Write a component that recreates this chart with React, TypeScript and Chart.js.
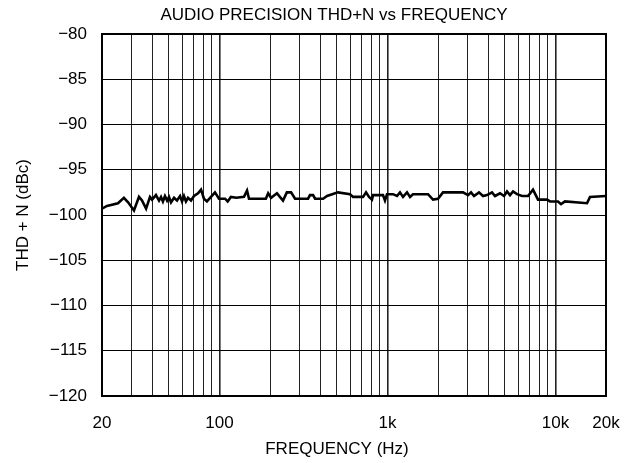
import React, { useEffect, useRef } from "react";
import { Chart, registerables } from "chart.js";

Chart.register(...registerables);

const TITLE = "AUDIO PRECISION THD+N vs FREQUENCY";
const X_TITLE = "FREQUENCY (Hz)";
const Y_TITLE = "THD + N (dBc)";

const FREQ_HZ = [
  20, 21.4, 24.9, 27.0, 28.6, 31.0, 33.2, 34.6, 36.6, 38.6, 39.7, 41.9, 43.7, 44.9, 46.1, 47.4,
  48.8, 50.1, 51.5, 53.7, 55.9, 58.3, 59.9, 61.5, 63.2, 65.0, 67.7, 70.6, 74.6, 77.7, 80.9, 84.3,
  89.1, 94.1, 99.4, 108, 112, 117, 126, 140, 146, 150, 189, 195, 203, 220, 229, 239, 252, 267,
  282, 337, 346, 361, 371, 414, 437, 508, 599, 624, 716, 746, 777, 809, 821, 941, 967, 994,
  1079, 1140, 1188, 1238, 1308, 1363, 1420, 1744, 1868, 2000, 2142, 2818, 3018, 3145, 3277,
  3508, 3706, 3914, 4193, 4370, 4678, 4942, 5150, 5366, 5592, 5906, 6325, 6868, 7355, 7878,
  8910, 9284, 10360, 10797, 11404, 15418, 16064, 20000,
];

const THDN_DBC = [
  -99.3, -99.0, -98.7, -98.1, -98.6, -99.5, -98.0, -98.4, -99.3, -98.0, -98.3, -97.8, -98.4, -98.0,
  -98.5, -97.9, -98.4, -98.0, -98.6, -98.1, -98.4, -97.9, -98.5, -97.9, -98.5, -98.1, -98.4, -97.9,
  -97.6, -97.2, -98.2, -98.5, -98.0, -97.5, -98.2, -98.2, -98.5, -98.0, -98.1, -98.0, -97.3, -98.2,
  -98.2, -97.6, -98.1, -97.6, -98.0, -98.4, -97.5, -97.5, -98.2, -98.2, -97.8, -97.8, -98.2, -98.2,
  -97.9, -97.5, -97.7, -98.0, -98.0, -97.5, -98.0, -98.3, -97.8, -97.8, -98.4, -97.7, -97.7, -97.9,
  -97.5, -98.0, -97.5, -98.0, -97.7, -97.7, -98.3, -98.2, -97.5, -97.5, -97.8, -97.5, -97.9, -97.5,
  -97.9, -97.8, -97.5, -97.9, -97.6, -97.9, -97.4, -97.8, -97.4, -97.7, -97.9, -97.9, -97.2, -98.3,
  -98.3, -98.5, -98.5, -98.8, -98.5, -98.7, -98.0, -97.9,
];

const X_GRID = [
  20, 30, 40, 50, 60, 70, 80, 90, 100, 200, 300, 400, 500, 600, 700, 800, 900,
  1000, 2000, 3000, 4000, 5000, 6000, 7000, 8000, 9000, 10000, 20000,
];
const X_MAJOR = [100, 1000, 10000];
const X_LABEL_VALUES = [20, 100, 1000, 10000, 20000];
const X_LABEL_TEXT = ["20", "100", "1k", "10k", "20k"];
const Y_TICKS = [-120, -115, -110, -105, -100, -95, -90, -85, -80];

const FONT = "'Liberation Sans', Arial, Helvetica, sans-serif";

export default function App() {
  const canvasRef = useRef<HTMLCanvasElement | null>(null);

  useEffect(() => {
    const canvas = canvasRef.current;
    if (!canvas) return;

    const framePlugin = {
      id: "frameAndTitles",
      afterDraw(chart: any) {
        const { ctx, chartArea } = chart;
        ctx.save();
        ctx.strokeStyle = "#000";
        ctx.lineWidth = 2;
        ctx.strokeRect(
          chartArea.left,
          chartArea.top,
          chartArea.right - chartArea.left,
          chartArea.bottom - chartArea.top
        );
        ctx.fillStyle = "#000";
        ctx.font = `17px ${FONT}`;
        ctx.textAlign = "center";
        ctx.textBaseline = "middle";
        ctx.fillText(TITLE, 334, 15);
        ctx.fillText(X_TITLE, 337, 449);
        ctx.restore();
      },
    };

    const chart = new Chart(canvas, {
      type: "line",
      data: {
        datasets: [
          {
            data: FREQ_HZ.map((f, i) => ({ x: f, y: THDN_DBC[i] })),
            borderColor: "#000",
            borderWidth: 2.6,
            pointRadius: 0,
            tension: 0,
            fill: false,
          },
        ],
      },
      options: {
        animation: false,
        responsive: true,
        maintainAspectRatio: false,
        layout: { padding: { top: 34, right: 31, left: 0, bottom: 0 } },
        plugins: {
          legend: { display: false },
          tooltip: { enabled: false },
          title: { display: false },
        },
        scales: {
          x: {
            type: "logarithmic",
            min: 20,
            max: 20000,
            afterBuildTicks(scale: any) {
              scale.ticks = X_GRID.map((v) => ({ value: v, major: X_MAJOR.includes(v) }));
            },
            afterFit(scale: any) {
              scale.height = 67;
            },
            ticks: {
              autoSkip: false,
              maxRotation: 0,
              minRotation: 0,
              padding: 17,
              color: "#000",
              font: { family: FONT, size: 17 },
              callback(value: any) {
                const idx = X_LABEL_VALUES.indexOf(Number(value));
                return idx >= 0 ? X_LABEL_TEXT[idx] : "";
              },
            },
            grid: {
              drawTicks: false,
              color: "#222",
              lineWidth: (c: any) => (c.tick && X_MAJOR.includes(c.tick.value) ? 1.6 : 1),
            },
            border: { display: false },
            title: { display: false },
          },
          y: {
            type: "linear",
            min: -120,
            max: -80,
            afterBuildTicks(scale: any) {
              scale.ticks = Y_TICKS.map((v) => ({ value: v }));
            },
            afterFit(scale: any) {
              scale.width = 102;
            },
            ticks: {
              padding: 15,
              color: "#000",
              font: { family: FONT, size: 17 },
              callback(value: any) {
                const v = Number(value);
                return v < 0 ? "\u2212" + Math.abs(v) : String(v);
              },
            },
            grid: {
              drawTicks: false,
              color: "#000",
              lineWidth: 1,
            },
            border: { display: false },
            title: {
              display: true,
              text: Y_TITLE,
              color: "#000",
              font: { family: FONT, size: 17 },
              padding: { top: 13, bottom: 0 },
            },
          },
        },
      },
      plugins: [framePlugin],
    });

    return () => chart.destroy();
  }, []);

  return (
    <div style={{ position: "fixed", left: 0, top: 0, width: 637, height: 463, background: "#fff" }}>
      <canvas ref={canvasRef} />
    </div>
  );
}
